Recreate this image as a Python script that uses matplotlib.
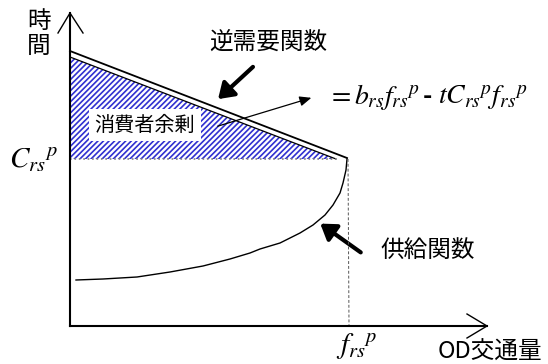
import numpy as np
import matplotlib.pyplot as plt
from matplotlib.patches import Polygon, FancyArrowPatch

plt.rcParams['mathtext.fontset'] = 'stix'
plt.rcParams['hatch.linewidth'] = 1.2
cjk = ['Noto Sans CJK JP', 'DejaVu Sans']

# diagram geometry (pixel space of the 548x364 picture, y grows downward)
origin = (70, 326)
axis_top = 13
axis_right = 487
price_level = 159          # C_rs^p
flow_level = 349           # f_rs^p

demand_x = [70, 347]
demand_y = [51, 158]
surplus_x = [70, 70, 336]
surplus_y = [57, 159, 159]

supply_x = [76, 103, 137, 170, 203, 230, 250, 260, 280, 300, 313, 325, 333, 340, 343, 346, 347]
supply_y = [280, 279, 277, 272, 266, 259, 253, 249, 243, 233, 225, 215, 205, 193, 183, 170, 159]

fig = plt.figure(figsize=(5.48, 3.64), dpi=100)
ax = fig.add_axes([0, 0, 1, 1])
ax.set_xlim(0, 548)
ax.set_ylim(364, 0)
ax.axis('off')

# consumer surplus hatch
tri = Polygon(list(zip(surplus_x, surplus_y)), closed=True, facecolor='white',
              edgecolor='#3030d0', hatch='//////', linewidth=0)
ax.add_patch(tri)
ax.plot(surplus_x[::2], surplus_y[::2], color='black', lw=0.9)
ax.plot([70, 336], [price_level, price_level], color='gray', ls=':', lw=1.2)

# inverse demand line
ax.plot(demand_x, demand_y, color='black', lw=1.3)

# supply curve
ax.plot(supply_x, supply_y, color='black', lw=1.0)

# f_rs^p dashed guide
ax.plot([348, flow_level], [price_level, origin[1]], color='#555555', ls=(0, (3, 2)), lw=0.7)

# axes
ax.plot([origin[0], origin[0]], [axis_top, origin[1]], color='black', lw=1.5)
ax.plot([origin[0], axis_right], [origin[1], origin[1]], color='black', lw=1.5)
ax.plot([58, 70, 83], [33, axis_top, 33], color='black', lw=1.0)
ax.plot([467, axis_right, 467], [314, origin[1], 338], color='black', lw=1.0)

# arrows
ax.add_patch(FancyArrowPatch((255, 65), (216, 101), arrowstyle='-|>,head_length=9,head_width=6',
                             color='black', lw=3, mutation_scale=1))
ax.add_patch(FancyArrowPatch((363, 254), (318, 222), arrowstyle='-|>,head_length=9,head_width=6',
                             color='black', lw=3, mutation_scale=1))
ax.add_patch(FancyArrowPatch((215, 127), (314, 97), arrowstyle='-|>,head_length=7,head_width=3',
                             color='black', lw=0.9, mutation_scale=1))

# texts
ax.text(39, 22, '時', family=cjk, fontsize=17, ha='center', va='center')
ax.text(39, 46, '間', family=cjk, fontsize=17, ha='center', va='center')
ax.text(268, 43, '逆需要関数', family=cjk, fontsize=17, ha='center', va='center')
ax.text(145, 125, '消費者余剰', family=cjk, fontsize=14.5, ha='center', va='center',
        bbox=dict(facecolor='white', edgecolor='none', pad=4))
ax.text(428, 250, '供給関数', family=cjk, fontsize=17, ha='center', va='center')
ax.text(490, 352, 'OD交通量', family=cjk, fontsize=17, ha='center', va='center')

ax.text(9, 168, r'$C_{rs}{}^{p}$', fontsize=21, ha='left', va='baseline')
ax.text(336, 354, r'$f_{rs}{}^{p}$', fontsize=21, ha='left', va='baseline')
ax.text(327, 104, r'$=b_{rs}f_{rs}{}^{p}$', fontsize=20, ha='left', va='baseline')
ax.text(427, 97, '-', fontsize=16, fontweight='bold', ha='center', va='center')
ax.text(438, 104, r'$tC_{rs}{}^{p}f_{rs}{}^{p}$', fontsize=20, ha='left', va='baseline')

fig.savefig('out.png', dpi=100)
